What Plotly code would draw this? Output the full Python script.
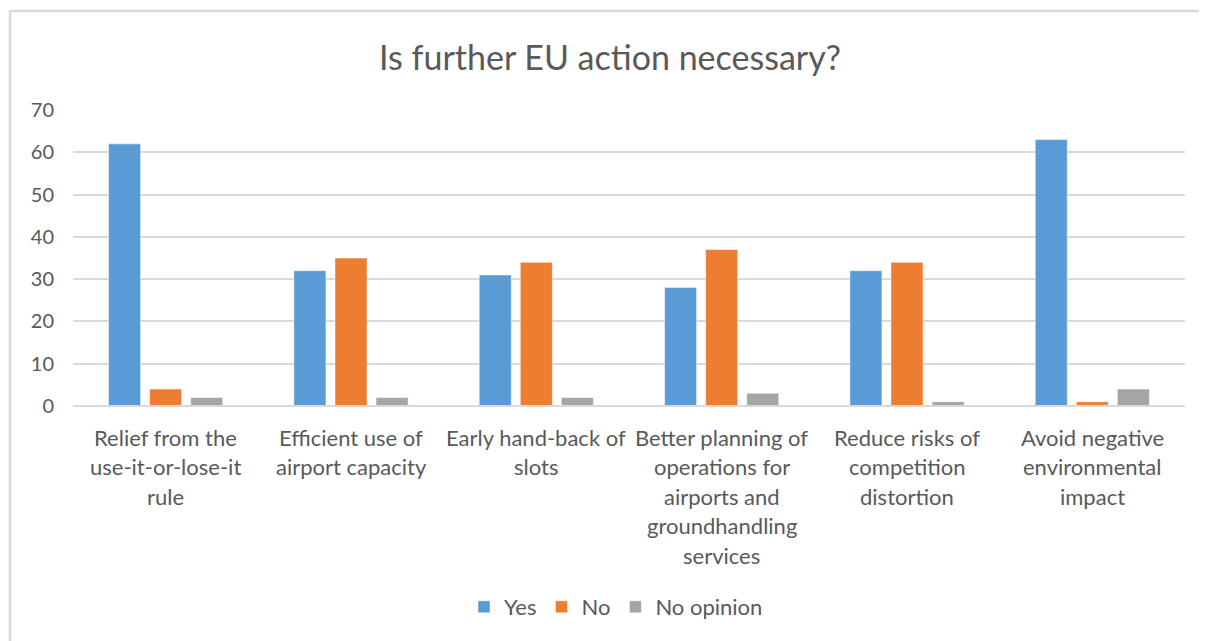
import plotly.graph_objects as go

categories = [
    "Relief from the<br>use-it-or-lose-it<br>rule",
    "Efficient use of<br>airport capacity",
    "Early hand-back of<br>slots",
    "Better planning of<br>operations for<br>airports and<br>groundhandling<br>services",
    "Reduce risks of<br>competition<br>distortion",
    "Avoid negative<br>environmental<br>impact",
]
series_names = ["Yes", "No", "No opinion"]
yes_values = [62, 32, 31, 28, 32, 63]
no_values = [4, 35, 34, 37, 34, 1]
noop_values = [2, 2, 2, 3, 1, 4]
y_ticks = [0, 10, 20, 30, 40, 50, 60, 70]

colors = ["#5B9BD5", "#ED7D31", "#A5A5A5"]
FONT = "Lato"
TXT = "#595959"

# page body has an 8px margin; figure is shrunk so the picture fills 1207x641
W, H = 1199, 633
ML, MR, MT, MB = 65, 22, 102, 235
PW, PH = W - ML - MR, H - MT - MB

fig = go.Figure()
for name, vals, col in zip(series_names, [yes_values, no_values, noop_values], colors):
    fig.add_trace(go.Bar(x=list(range(len(categories))), y=vals, name=name,
                         marker=dict(color=col, line=dict(color="white", width=0.5))))

annotations = []
for i, cat in enumerate(categories):
    for j, line in enumerate(cat.split("<br>")):
        annotations.append(dict(x=i, y=0, xref="x", yref="paper", text=line,
                                showarrow=False, yanchor="middle", xanchor="center",
                                yshift=-31 - 29.5 * j,
                                font=dict(family=FONT, size=22, color=TXT)))

fig.update_layout(
    width=W, height=H,
    paper_bgcolor="white", plot_bgcolor="white",
    margin=dict(l=ML, r=MR, t=MT, b=MB),
    title=dict(text="Is further EU action necessary?", x=(610 - 8) / W, xanchor="center",
               y=1 - 50 / H, yanchor="middle",
               font=dict(family=FONT, size=34, color=TXT)),
    barmode="group", bargap=0.335, bargroupgap=0.22,
    xaxis=dict(range=[-0.5, len(categories) - 0.5], showticklabels=False,
               showgrid=False, zeroline=False, showline=False, ticks=""),
    yaxis=dict(range=[0, 70], tickvals=y_ticks, showgrid=True, gridcolor="#D9D9D9",
               gridwidth=2, zeroline=False, showline=False, ticks="",
               tickfont=dict(family=FONT, size=20, color=TXT), ticklabelstandoff=18),
    legend=dict(orientation="h", x=(616 - 8 - ML) / PW, xanchor="center",
                y=-(607 - 8 - MT - PH) / PH, yanchor="middle",
                font=dict(family=FONT, size=22, color=TXT), itemwidth=30,
                traceorder="normal"),
    annotations=annotations,
    shapes=[dict(type="line", xref="paper", yref="paper", x0=0, x1=1, y0=0, y1=0,
                 line=dict(color="#D9D9D9", width=2)),
            dict(type="rect", xref="paper", yref="paper",
                 x0=(2 - ML) / PW, x1=(1215 - ML) / PW,
                 y0=-(650 - MT - PH) / PH, y1=(MT + PH - 3) / PH,
                 line=dict(color="#D9D9D9", width=2.5), fillcolor="rgba(0,0,0,0)",
                 layer="below")],
    showlegend=True,
)

fig.write_html("out.html")
